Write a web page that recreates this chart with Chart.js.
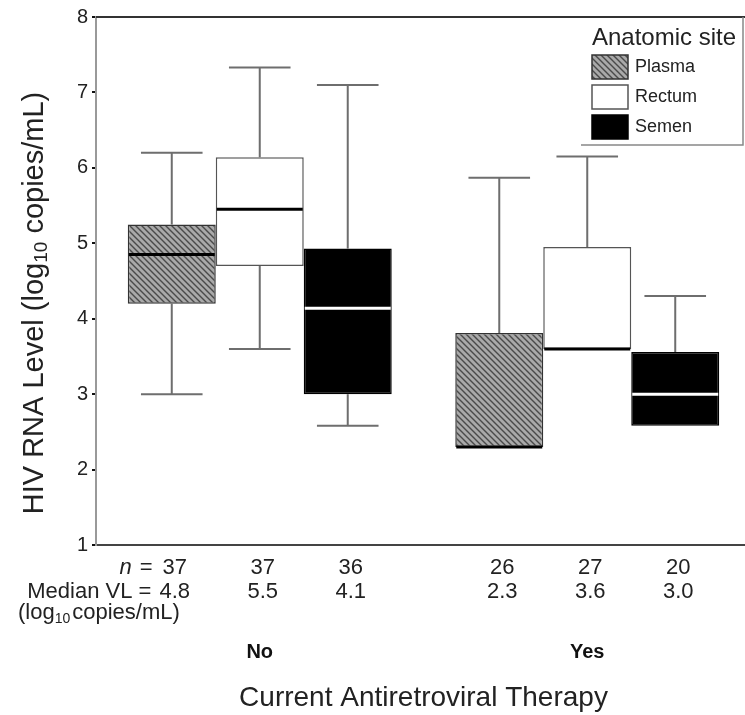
<!DOCTYPE html>
<html><head><meta charset="utf-8">
<script src="https://cdn.jsdelivr.net/npm/chart.js@4.4.1/dist/chart.umd.min.js"></script>
<style>html,body{margin:0;padding:0;background:#fff;overflow:hidden;width:745px;height:715px}canvas{display:block}</style>
</head><body><canvas id="c" width="751" height="715"></canvas>
<script>
// ---- data ----
const therapy = ['No', 'Yes'];
const sites = ['Plasma', 'Rectum', 'Semen'];
const plasmaMin = [3.0, 2.3], plasmaQ1 = [4.2, 2.3], plasmaMedian = [4.85, 2.3], plasmaQ3 = [5.25, 3.81], plasmaMax = [6.2, 5.87];
const rectumMin = [3.6, 3.6], rectumQ1 = [4.7, 3.6], rectumMedian = [5.45, 3.6], rectumQ3 = [6.14, 4.95], rectumMax = [7.33, 6.15];
const semenMin = [2.58, 2.58], semenQ1 = [3.0, 2.58], semenMedian = [4.14, 3.0], semenQ3 = [4.93, 3.56], semenMax = [7.1, 4.3];
const plasmaN = [37, 26], rectumN = [37, 27], semenN = [36, 20];
const plasmaVL = ['4.8', '2.3'], rectumVL = ['5.5', '3.6'], semenVL = ['4.1', '3.0'];
const yTicks = [1, 2, 3, 4, 5, 6, 7, 8];
const legendTitle = 'Anatomic site';
const xTitle = 'Current Antiretroviral Therapy';

const FAM = "'Liberation Sans', Arial, Helvetica, sans-serif";

// hatch pattern for plasma
function makeHatch() {
  const s = 6, c = document.createElement('canvas');
  c.width = s; c.height = s;
  const g = c.getContext('2d');
  g.fillStyle = '#a9a9a9'; g.fillRect(0, 0, s, s);
  g.strokeStyle = '#4a4a4a'; g.lineWidth = 1.4;
  g.beginPath();
  g.moveTo(0, 0); g.lineTo(s, s);
  g.moveTo(-1, s - 1); g.lineTo(1, s + 1);
  g.moveTo(s - 1, -1); g.lineTo(s + 1, 1);
  g.stroke();
  return document.getElementById('c').getContext('2d').createPattern(c, 'repeat');
}
const hatch = makeHatch();

function ds(label, mn, q1, md, q3, mx, n, vl, fill, border, medColor) {
  return {
    label, data: therapy.map((_, i) => [q1[i], q3[i]]),
    stats: { min: mn, med: md, max: mx, q1, q3, n, vl },
    backgroundColor: fill, borderColor: border, borderWidth: 1.5, borderSkipped: false,
    medianColor: medColor, categoryPercentage: 0.806, barPercentage: 1.0
  };
}

const datasets = [
  ds(sites[0], plasmaMin, plasmaQ1, plasmaMedian, plasmaQ3, plasmaMax, plasmaN, plasmaVL, hatch, '#333', '#000'),
  ds(sites[1], rectumMin, rectumQ1, rectumMedian, rectumQ3, rectumMax, rectumN, rectumVL, '#ffffff', '#555', '#000'),
  ds(sites[2], semenMin, semenQ1, semenMedian, semenQ3, semenMax, semenN, semenVL, '#000000', '#000', '#ffffff')
];

const boxPlugin = {
  id: 'boxPlugin',
  beforeDatasetsDraw(chart) {
    const ctx = chart.ctx, y = chart.scales.y;
    chart.data.datasets.forEach((d, di) => {
      chart.getDatasetMeta(di).data.forEach((el, j) => {
        const st = d.stats, x = el.x, cw = el.width * 0.7;
        ctx.save();
        ctx.strokeStyle = '#6e6e6e'; ctx.lineWidth = 2;
        ctx.beginPath();
        if (st.max[j] > st.q3[j]) {
          const a = y.getPixelForValue(st.q3[j]), b = y.getPixelForValue(st.max[j]);
          ctx.moveTo(x, a); ctx.lineTo(x, b);
          ctx.moveTo(x - cw / 2, b); ctx.lineTo(x + cw / 2, b);
        }
        if (st.min[j] < st.q1[j]) {
          const a = y.getPixelForValue(st.q1[j]), b = y.getPixelForValue(st.min[j]);
          ctx.moveTo(x, a); ctx.lineTo(x, b);
          ctx.moveTo(x - cw / 2, b); ctx.lineTo(x + cw / 2, b);
        }
        ctx.stroke();
        ctx.restore();
      });
    });
  },
  afterDatasetsDraw(chart) {
    const ctx = chart.ctx, y = chart.scales.y;
    chart.data.datasets.forEach((d, di) => {
      chart.getDatasetMeta(di).data.forEach((el, j) => {
        const py = y.getPixelForValue(d.stats.med[j]);
        ctx.save();
        ctx.strokeStyle = d.medianColor; ctx.lineWidth = 3;
        ctx.beginPath();
        ctx.moveTo(el.x - el.width / 2 + 1, py); ctx.lineTo(el.x + el.width / 2 - 1, py);
        ctx.stroke();
        ctx.restore();
      });
    });
  },
  afterDraw(chart) {
    const ctx = chart.ctx, ca = chart.chartArea;
    ctx.save();
    // top frame line
    ctx.strokeStyle = '#333'; ctx.lineWidth = 2;
    ctx.beginPath(); ctx.moveTo(ca.left, ca.top); ctx.lineTo(ca.right, ca.top); ctx.stroke();

    // legend
    const lx = ca.right - 170, rx = ca.right - 8, by = ca.top + 128;
    ctx.strokeStyle = '#888'; ctx.lineWidth = 1.5;
    ctx.beginPath(); ctx.moveTo(rx, ca.top); ctx.lineTo(rx, by); ctx.lineTo(lx, by); ctx.stroke();
    ctx.fillStyle = '#222'; ctx.textBaseline = 'middle'; ctx.textAlign = 'center';
    ctx.font = '24px ' + FAM;
    ctx.fillText(legendTitle, (lx + rx) / 2 + 2, ca.top + 21);
    ctx.font = '18px ' + FAM; ctx.textAlign = 'left';
    chart.data.datasets.forEach((d, i) => {
      const sy = ca.top + 38 + i * 30;
      ctx.fillStyle = d.backgroundColor; ctx.fillRect(lx + 11, sy, 36, 24);
      ctx.strokeStyle = d.borderColor; ctx.lineWidth = 1.5; ctx.strokeRect(lx + 11, sy, 36, 24);
      ctx.fillStyle = '#222'; ctx.fillText(d.label, lx + 54, sy + 12);
    });

    // n and median rows
    const f = '22px ' + FAM;
    ctx.font = f; ctx.fillStyle = '#222';
    const rowN = ca.bottom + 23, rowV = ca.bottom + 47, rowL = ca.bottom + 68;
    chart.data.datasets.forEach((d, di) => {
      chart.getDatasetMeta(di).data.forEach((el, j) => {
        const x = el.x + 3;
        ctx.textAlign = 'center';
        ctx.fillText(String(d.stats.n[j]), x, rowN);
        ctx.fillText(d.stats.vl[j], x, rowV);
        if (di === 0 && j === 0) {
          const wN = ctx.measureText(String(d.stats.n[j])).width;
          const wV = ctx.measureText(d.stats.vl[j]).width;
          ctx.textAlign = 'right';
          ctx.fillText('=', x - wN / 2 - 10, rowN);
          const wEq = ctx.measureText('=').width;
          ctx.font = 'italic ' + f;
          ctx.fillText('n', x - wN / 2 - 10 - wEq - 8, rowN);
          ctx.font = f;
          ctx.fillText('Median VL = ', x - wV / 2 - 2, rowV);
        }
      });
    });
    // (log10 copies/mL)
    ctx.textAlign = 'left';
    let lx0 = 18;
    ctx.fillText('(log', lx0, rowL); lx0 += ctx.measureText('(log').width;
    ctx.font = '14px ' + FAM; ctx.fillText('10', lx0, rowL + 6); lx0 += ctx.measureText('10').width + 2;
    ctx.font = f; ctx.fillText('copies/mL)', lx0, rowL);

    // y title
    const parts = [['HIV RNA Level (log', '29px', 0], ['10', '19px', 7], [' copies/mL)', '29px', 0]];
    let tw = 0;
    parts.forEach(p => { ctx.font = p[1] + ' ' + FAM; tw += ctx.measureText(p[0]).width; });
    ctx.translate(35, (ca.top + ca.bottom) / 2 + 22);
    ctx.rotate(-Math.PI / 2);
    let px = -tw / 2;
    ctx.textAlign = 'left';
    parts.forEach(p => { ctx.font = p[1] + ' ' + FAM; ctx.fillText(p[0], px, p[2]); px += ctx.measureText(p[0]).width; });
    ctx.restore();
  }
};

new Chart(document.getElementById('c'), {
  type: 'bar',
  data: { labels: therapy, datasets },
  plugins: [boxPlugin],
  options: {
    responsive: false, animation: false, devicePixelRatio: 1,
    layout: { padding: { top: 17, left: 0, right: 0, bottom: 0 } },
    plugins: { legend: { display: false }, tooltip: { enabled: false } },
    scales: {
      x: {
        type: 'category', offset: true,
        grid: { display: false },
        border: { display: true, color: '#444', width: 2 },
        ticks: { font: { size: 20, weight: 'bold', family: FAM }, color: '#111', padding: 87 },
        title: { display: true, text: xTitle, font: { size: 28, family: FAM }, color: '#222', padding: { top: 0, bottom: 0 } },
        afterFit(s) { s.height = 170; }
      },
      y: {
        min: 1, max: 8,
        afterBuildTicks(s) { s.ticks = yTicks.map(v => ({ value: v })); },
        ticks: { font: { size: 20, family: FAM }, color: '#222', padding: 4 },
        grid: { drawOnChartArea: false, drawTicks: true, tickLength: 4, color: '#111', lineWidth: 2 },
        border: { display: true, color: '#999', width: 2 },
        afterFit(s) { s.width = 96; }
      }
    }
  }
});
</script>
</body></html>
